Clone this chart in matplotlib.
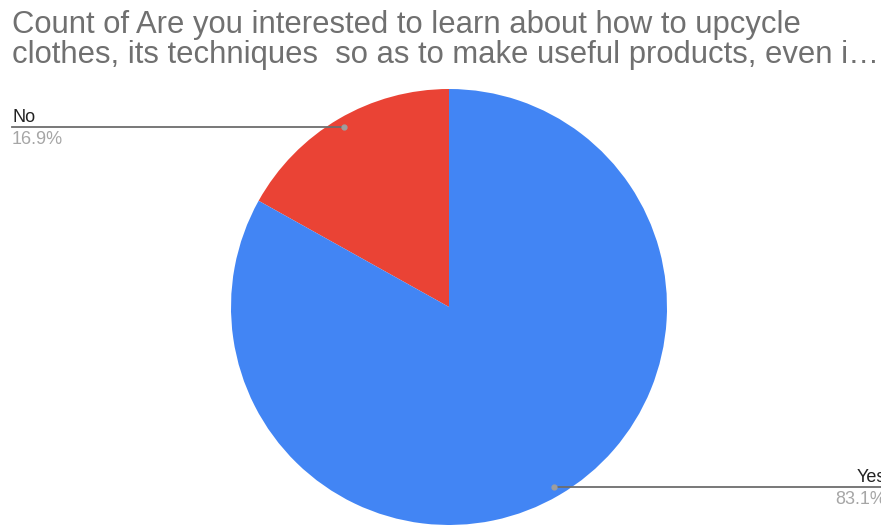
import numpy as np
import matplotlib.pyplot as plt

plt.rcParams['font.family'] = ['Liberation Sans', 'DejaVu Sans']

labels = ['No', 'Yes']
shares = [16.9, 83.1]
colors = ['#ea4335', '#4285f4']
title_lines = ['Count of Are you interested to learn about how to upcycle',
               'clothes, its techniques  so as to make useful products, even i\u2026']

W, H = 881, 525


def main():
    fig = plt.figure(figsize=(W / 100, H / 100), dpi=100)
    ax = fig.add_axes([0, 0, 1, 1])

    # pie in pixel units, y measured upwards
    cx, cy, r = 449, H - 307, 218
    wedges, _ = ax.pie(shares, colors=colors, startangle=90, counterclock=True,
                       center=(cx, cy), radius=r, frame=True,
                       wedgeprops=dict(linewidth=0))
    ax.set_xlim(0, W)
    ax.set_ylim(0, H)
    ax.set_aspect('equal')
    ax.axis('off')

    # leader lines with dots and labels
    for w, lab, val in zip(wedges, labels, shares):
        mid = np.deg2rad((w.theta1 + w.theta2) / 2)
        px = cx + 0.955 * r * np.cos(mid)
        py = cy + 0.955 * r * np.sin(mid)
        if np.cos(mid) < 0:
            x0, x1, tx, ha = 12, px, 12, 'left'
        else:
            x0, x1, tx, ha = px, W, 886, 'right'
        ax.plot([x0, x1], [py, py], color='#6d6d6d', lw=1.3, zorder=3)
        ax.plot(px, py, 'o', ms=3.5, color='#9e9e9e', zorder=4)
        ax.text(tx, py + 5, lab, ha=ha, va='baseline', fontsize=13, color='#222222')
        ax.text(tx, py - 4, f'{val}%', ha=ha, va='top', fontsize=13, color='#a6a6a6')

    # two-line title
    for i, line in enumerate(title_lines):
        fig.text(12 / W, 1 - (33 + 30 * i) / H, line, ha='left', va='baseline',
                 fontsize=22.3, color='#707070')

    fig.savefig('out.png', dpi=100)


if __name__ == '__main__':
    main()
